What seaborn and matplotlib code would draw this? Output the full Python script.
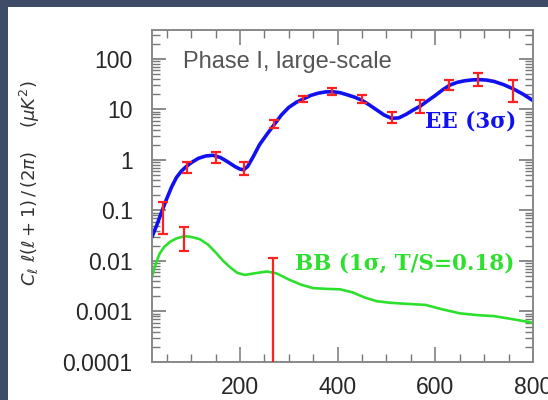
import matplotlib
matplotlib.use("Agg")
import matplotlib.pyplot as plt
import matplotlib.ticker as mticker
from matplotlib.patches import Rectangle
import seaborn as sns
import numpy as np
import pandas as pd

# ---- data ----
ee_curve_l = [20, 30, 40, 50, 60, 70, 80, 90, 100, 115, 130, 145, 160, 175, 190, 200, 208, 216,
              228, 240, 255, 270, 285, 300, 315, 330, 345, 360, 375, 390, 405, 420, 435, 450,
              465, 480, 495, 510, 525, 540, 555, 570, 585, 600, 615, 630, 645, 660, 675, 690,
              705, 720, 740, 760, 780, 800]
ee_curve_v = [0.030, 0.052, 0.095, 0.17, 0.29, 0.45, 0.60, 0.74, 0.88, 1.08, 1.20, 1.24, 1.12,
              0.92, 0.74, 0.66, 0.64, 0.75, 1.2, 2.0, 3.2, 5.0, 7.8, 11.0, 13.8, 16.2, 19.0,
              21.0, 22.3, 22.5, 21.5, 19.5, 17.5, 15.2, 12.3, 9.8, 7.8, 6.7, 6.8, 8.0, 9.8,
              11.8, 15.0, 19.0, 24.5, 30.5, 34.5, 37.0, 38.5, 39.0, 38.2, 36.0, 31.0, 25.5,
              20.0, 15.0]

bb_curve_l = [20, 28, 36, 45, 57, 70, 87, 100, 118, 135, 152, 165, 180, 195, 210, 230, 255,
              275, 300, 325, 350, 380, 405, 430, 455, 480, 507, 540, 580, 615, 650, 685, 720,
              760, 800]
bb_curve_v = [0.0049, 0.009, 0.0142, 0.019, 0.024, 0.028, 0.031, 0.030, 0.027, 0.021, 0.0142,
              0.0102, 0.0075, 0.0058, 0.0053, 0.0057, 0.0062, 0.0057, 0.0043, 0.0034, 0.0029,
              0.0028, 0.00275, 0.0024, 0.0019, 0.0016, 0.00149, 0.00142, 0.00135, 0.0011,
              0.00092, 0.00085, 0.00081, 0.0007, 0.0006]

ee_l = [42, 91, 151, 209, 270, 329, 388, 449, 511, 569, 629, 688, 760]
ee_c = [0.07, 0.72, 1.12, 0.68, 5.1, 16.0, 22.5, 16.0, 7.0, 11.5, 30.5, 39.0, 23.5]
ee_lo = [0.034, 0.55, 0.86, 0.50, 4.25, 13.9, 19.4, 13.7, 5.3, 8.6, 24.3, 29.6, 14.3]
ee_hi = [0.15, 0.92, 1.46, 0.92, 6.2, 18.5, 26.3, 19.4, 9.0, 15.4, 38.4, 52.0, 38.4]

bb_l = [86, 268]
bb_c = [0.028, 0.005]
bb_lo = [0.016, 0.0]
bb_hi = [0.048, 0.0113]

y_ticks = [1e-4, 1e-3, 1e-2, 1e-1, 1, 10, 100]
x_ticks = [200, 400, 600, 800]

# ---- style ----
sns.set_style("ticks")
plt.rcParams['font.family'] = ['Liberation Sans', 'DejaVu Sans']
plt.rcParams['mathtext.fontset'] = 'dejavusans'

W, H = 548, 400
fig = plt.figure(figsize=(W / 100, H / 100), dpi=100)
fig.patch.set_facecolor('#3e4c67')
bg = Rectangle((8 / W, 0), 1, 1 - 7 / H, transform=fig.transFigure,
               facecolor='white', edgecolor='none', zorder=-10)
fig.add_artist(bg)

ax = fig.add_axes([152 / W, 1 - 362 / H, (533 - 152) / W, (362 - 30) / H])
ax.set_zorder(1)
ax.set_facecolor('white')

sns.lineplot(x=ee_curve_l, y=ee_curve_v, ax=ax, color='#1010f0', lw=2.6, sort=True,
             estimator=None)
sns.lineplot(x=bb_curve_l, y=bb_curve_v, ax=ax, color='#2ee02e', lw=1.9, sort=True,
             estimator=None)

ee_c_a = np.array(ee_c)
ax.errorbar(ee_l, ee_c, yerr=[ee_c_a - np.array(ee_lo), np.array(ee_hi) - ee_c_a], fmt='none',
            ecolor='#ff2020', elinewidth=1.6, capsize=3.8, capthick=1.6, zorder=5)
bb_c_a = np.array(bb_c)
ax.errorbar(bb_l, bb_c, yerr=[bb_c_a - np.array(bb_lo), np.array(bb_hi) - bb_c_a], fmt='none',
            ecolor='#ff2020', elinewidth=1.6, capsize=3.8, capthick=1.6, zorder=5)

ax.set_yscale('log')
ax.set_xlim(20, 800)
ax.set_ylim(1e-4, 375)

ax.yaxis.set_major_locator(mticker.FixedLocator(y_ticks))
ax.yaxis.set_major_formatter(mticker.FuncFormatter(lambda v, p: f"{v:g}"))
ax.yaxis.set_minor_locator(mticker.LogLocator(base=10, subs=np.arange(2, 10), numticks=20))
ax.yaxis.set_minor_formatter(mticker.NullFormatter())
ax.xaxis.set_major_locator(mticker.FixedLocator(x_ticks))
ax.xaxis.set_minor_locator(mticker.MultipleLocator(50))

for s in ax.spines.values():
    s.set_color('#888888')
    s.set_linewidth(1.4)

ax.tick_params(which='both', direction='in', top=True, right=True, color='#777777',
               labelcolor='#262626', labelsize=16.5)
ax.tick_params(axis='y', which='major', length=10, width=1.2, pad=14)
ax.tick_params(axis='y', which='minor', length=5.5, width=1.0)
ax.tick_params(axis='x', which='major', length=11, width=1.1, pad=10)
ax.tick_params(axis='x', which='minor', length=6, width=1.0)

ax.text(83, 87, "Phase I, large-scale", fontsize=17, color='#555555', ha='left', va='center')
ax.text(579, 5.9, "EE (3\u03c3)", fontsize=15.5, color='#1010f0', ha='left', va='center',
        family='DejaVu Serif', fontweight='bold')
ax.text(313, 0.0091, "BB (1\u03c3, T/S=0.18)", fontsize=15.5, color='#2ee02e', ha='left',
        va='center', family='DejaVu Serif', fontweight='bold')

fig.text(30 / W, 1 - 183 / H, r"$C_\ell\ \ell(\ell+1)\,/\,(2\pi)\quad\ (\mu K^2)$",
         rotation=90, ha='center', va='center', fontsize=13, color='#333333')

fig.savefig('out.png', dpi=100, facecolor=fig.get_facecolor())
